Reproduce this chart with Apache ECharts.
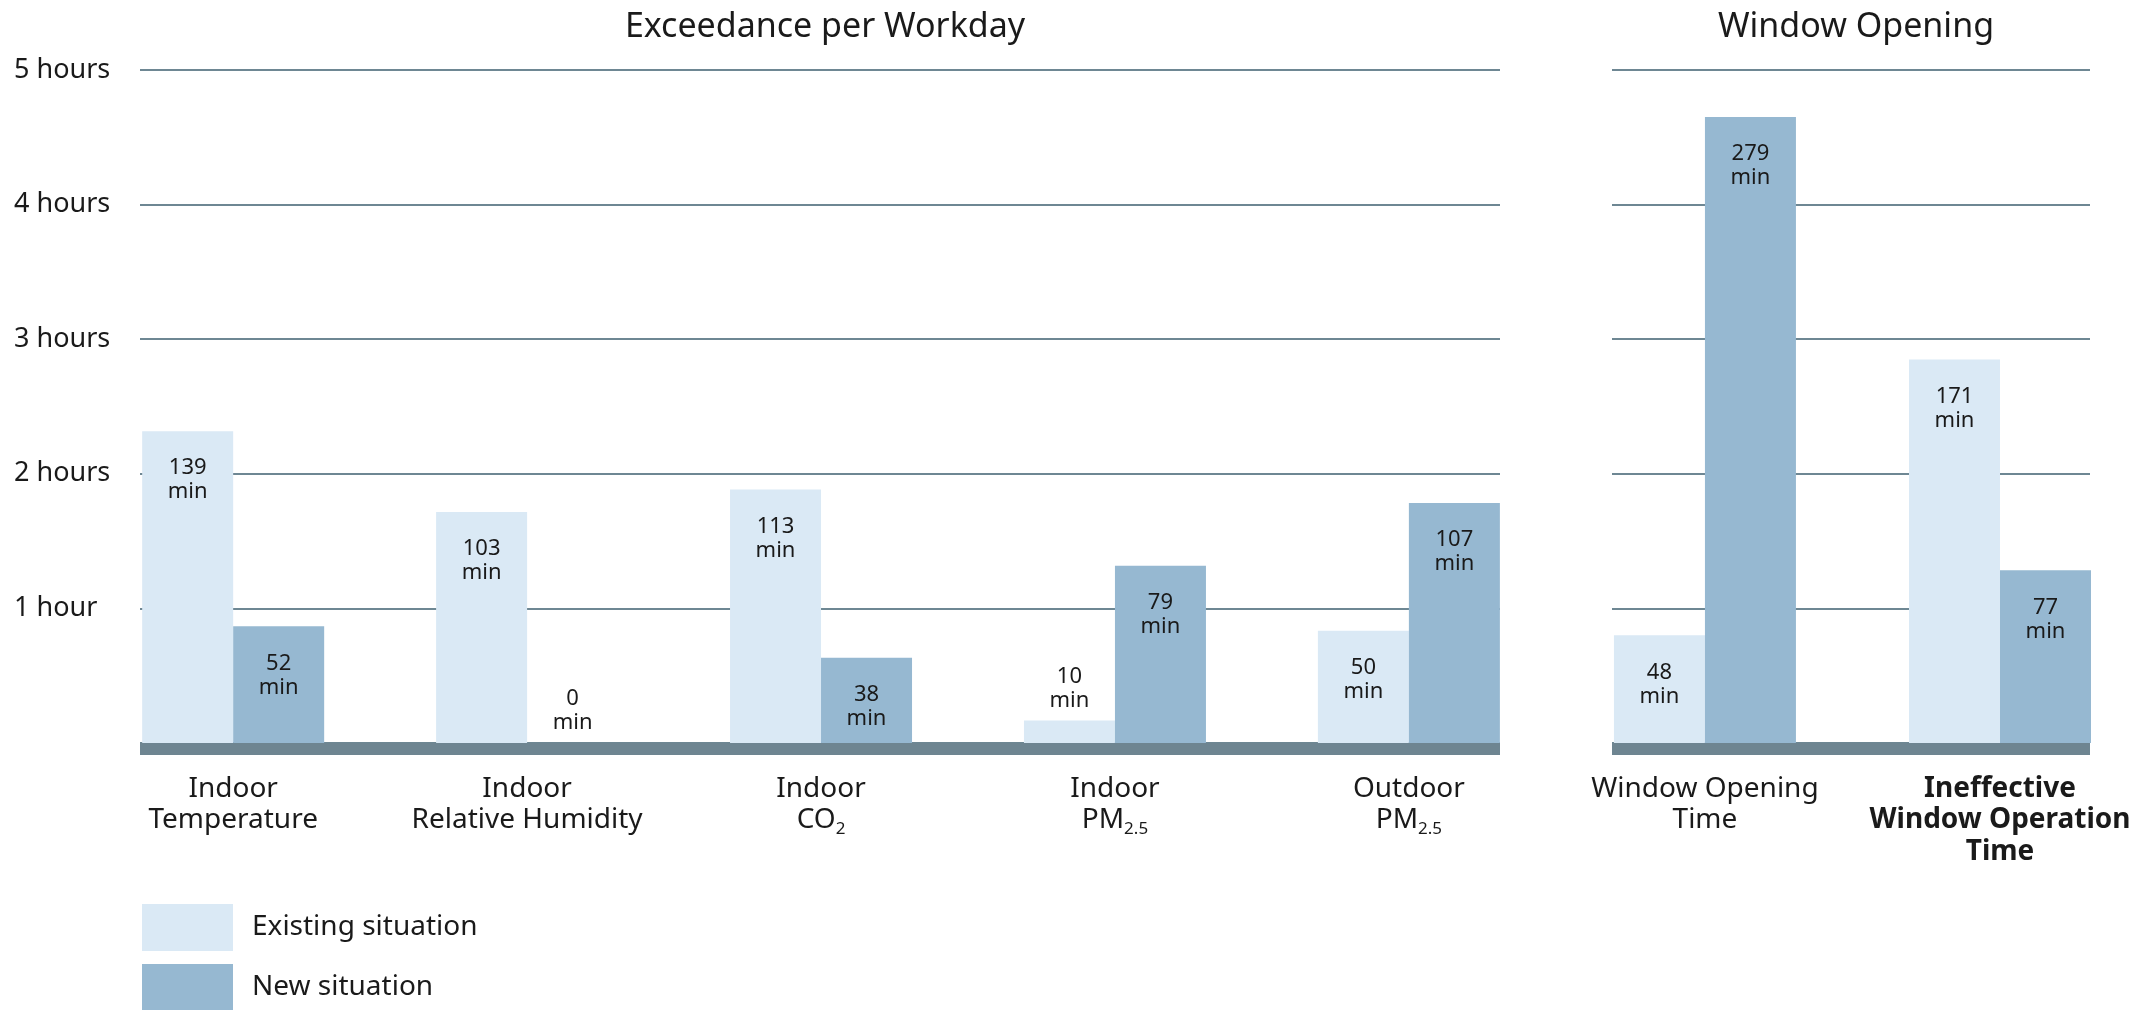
<!DOCTYPE html>
<html>
<head>
<meta charset="utf-8">
<title>Exceedance per Workday / Window Opening</title>
<script src="https://cdn.jsdelivr.net/npm/echarts@6/dist/echarts.min.js"></script>
<style>
  html, body { margin: 0; padding: 0; background: #ffffff; }
  #chart { width: 2151px; height: 1010px; }
</style>
</head>
<body>
<div id="chart"></div>
<script>
// Exceedance of indoor/outdoor limits per workday (minutes)
const envCategories = [
  'Indoor\nTemperature',
  'Indoor\nRelative Humidity',
  'Indoor\nCO{sub|2}',
  'Indoor\nPM{sub|2.5}',
  'Outdoor\nPM{sub|2.5}'
];
const envExisting = [139, 103, 113, 10, 50];
const envNew = [52, 0, 38, 79, 107];

// Window opening per workday (minutes)
const windowCategories = [
  'Window Opening\nTime',
  '{b|Ineffective}\n{b|Window Operation}\n{b|Time}'
];
const windowExisting = [48, 171];
const windowNew = [279, 77];

// Vertical axis: minutes, labelled in hours
const hourTickValues = [60, 120, 180, 240, 300];
const hourTickLabels = ['1 hour', '2 hours', '3 hours', '4 hours', '5 hours'];

const seriesNames = ['Existing situation', 'New situation'];

const FONT = 'Noto Sans';
const TEXT = '#1a1a1a';
const GRID_LINE = '#6e8793';
const BASE_LINE = '#6e8591';
const COLOR_EXISTING = '#dae9f5';
const COLOR_NEW = '#96b8d1';

const chart = echarts.init(document.getElementById('chart'), null, { renderer: 'canvas' });

function barData(values) {
  return values.map((v, i) => {
    const item = { value: [i, v] };
    if (v < 30) {
      item.label = { position: 'top', distance: 8 };
    }
    return item;
  });
}

const barLabel = {
  show: true,
  position: 'insideTop',
  distance: 25,
  fontFamily: FONT,
  fontSize: 22,
  lineHeight: 24,
  color: TEXT,
  formatter: p => p.value[1] + '\nmin'
};

function makeXAxis(gridIndex, categories, min, max) {
  return {
    type: 'value',
    gridIndex: gridIndex,
    min: min,
    max: max,
    offset: 6,
    splitLine: { show: false },
    axisTick: { show: false },
    axisLine: { show: true, onZero: false, lineStyle: { color: BASE_LINE, width: 12, cap: 'butt' } },
    axisLabel: {
      customValues: categories.map((c, i) => i),
      formatter: v => categories[Math.round(v)] || '',
      margin: 24,
      fontFamily: FONT,
      fontSize: 28,
      lineHeight: 31.5,
      color: TEXT,
      align: 'center',
      rich: {
        sub: { fontFamily: FONT, fontSize: 17, lineHeight: 17, verticalAlign: 'bottom', color: TEXT, padding: [0, 0, -2, 0] },
        b: { fontFamily: FONT, fontSize: 28, lineHeight: 31.5, fontWeight: 'bold', color: TEXT }
      }
    }
  };
}

function makeYAxis(gridIndex, showLabels) {
  return {
    type: 'value',
    gridIndex: gridIndex,
    min: 0,
    max: 300,
    interval: 60,
    axisLine: { show: false },
    axisTick: { show: false },
    splitLine: { show: true, lineStyle: { color: GRID_LINE, width: 2 } },
    axisLabel: {
      show: showLabels,
      align: 'left',
      margin: 126,
      fontFamily: FONT,
      fontSize: 27,
      color: TEXT,
      formatter: v => {
        const idx = hourTickValues.indexOf(v);
        return idx >= 0 ? hourTickLabels[idx] : '';
      }
    }
  };
}

function makeBar(name, values, color, axisIndex) {
  return {
    name: name,
    type: 'bar',
    xAxisIndex: axisIndex,
    yAxisIndex: axisIndex,
    barWidth: 91,
    barGap: '0%',
    itemStyle: { color: color },
    label: barLabel,
    emphasis: { disabled: true },
    data: barData(values)
  };
}

const titleStyle = { fontFamily: FONT, fontSize: 34, fontWeight: 'normal', color: TEXT };

const option = {
  backgroundColor: '#ffffff',
  animation: false,
  title: [
    { text: 'Exceedance per Workday', left: 820, top: 5, textAlign: 'center', textStyle: titleStyle },
    { text: 'Window Opening', left: 1851, top: 5, textAlign: 'center', textStyle: titleStyle }
  ],
  legend: {
    data: seriesNames,
    orient: 'vertical',
    left: 142,
    top: 904,
    height: 160,
    padding: 0,
    itemWidth: 91,
    itemHeight: 47,
    itemGap: 13,
    icon: 'rect',
    selectedMode: false,
    textStyle: { fontFamily: FONT, fontSize: 28, color: TEXT, padding: [0, 0, 0, 14] }
  },
  grid: [
    { left: 140, right: 651, top: 70, bottom: 267 },
    { left: 1612, right: 61, top: 70, bottom: 267 }
  ],
  xAxis: [
    makeXAxis(0, envCategories, -0.317, 4.31),
    makeXAxis(1, windowCategories, -0.315, 1.305)
  ],
  yAxis: [
    makeYAxis(0, true),
    makeYAxis(1, false)
  ],
  series: [
    makeBar(seriesNames[0], envExisting, COLOR_EXISTING, 0),
    makeBar(seriesNames[1], envNew, COLOR_NEW, 0),
    makeBar(seriesNames[0], windowExisting, COLOR_EXISTING, 1),
    makeBar(seriesNames[1], windowNew, COLOR_NEW, 1)
  ]
};

chart.setOption(option);
</script>
</body>
</html>
